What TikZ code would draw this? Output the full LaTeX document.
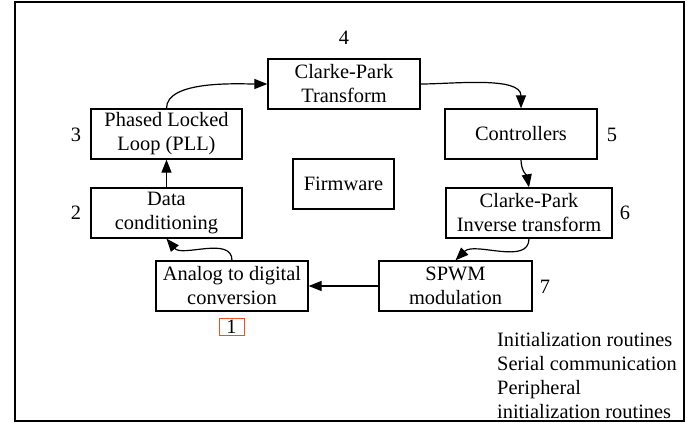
\documentclass[tikz,border=0pt]{standalone}
\usepackage{fontspec}
\setmainfont{Liberation Serif}
\usepackage{tikz}
\usetikzlibrary{arrows.meta,positioning}

\definecolor{markred}{RGB}{240,80,40}

\tikzset{
	block/.style={draw,line width=1.3pt,align=center,minimum height=50pt,inner sep=2pt},
	tag/.style={inner sep=0pt}
}

\begin{document}
\begin{tikzpicture}[x=1pt,y=1pt,font=\fontsize{20.4}{24}\selectfont]
	\useasboundingbox (0,0) rectangle (699,-423);
	\draw[line width=1.3pt] (15,-2) rectangle (684,-421);

	\begin{scope}[every node/.style={block}]
		\node[minimum width=152pt] (ctp) at (344,-84) {Clarke-Park\\Transform};
		\node[minimum width=151pt] (pll) at (166.5,-134) {Phased Locked\\Loop (PLL)};
		\node[minimum width=151pt] (cond) at (166.5,-213) {Data\\conditioning};
		\node[minimum width=101pt] (fw) at (343.5,-184) {Firmware};
		\node[minimum width=152pt] (ctrl) at (521,-134) {Controllers};
		\node[minimum width=166pt] (inv) at (529,-213) {Clarke-Park\\Inverse transform};
		\node[minimum width=152pt] (adc) at (232,-286) {Analog to digital\\conversion};
		\node[minimum width=153pt] (spwm) at (455.5,-286) {SPWM\\modulation};
	\end{scope}

	% step numbers
	\node[tag] (n4) at (344,-38) {4};
	\node[tag] (n3) at (76,-135) {3};
	\node[tag] (n2) at (76,-213) {2};
	\node[tag] (n5) at (612,-135) {5};
	\node[tag] (n6) at (625,-213) {6};
	\node[tag] (n7) at (545,-287) {7};
	\node[draw=markred,line width=0.8pt,minimum width=25pt,minimum height=17pt,inner sep=0pt] (n1) at (231.5,-326.5) {1};

	\node[tag,anchor=north west,align=left] (extra) at (497,-332) {Initialization routines\\Serial communication\\Peripheral\\initialization routines};

	\begin{scope}[>={Triangle[length=13pt,width=10pt]},
		every edge/.style={draw,line width=1.2pt,->}]
		\path (cond.north) edge (pll.south);
		\path (pll.north) edge[out=90,in=180,looseness=0.7] (ctp.west);
		\path (ctp.east) edge[out=0,in=90,looseness=0.8] (ctrl.north);
		\path (ctrl.south) edge[out=-90,in=100] (inv.north);
		\path (inv.south) edge[out=-90,in=45,looseness=0.9] (spwm.north);
		\path (spwm.west) edge (adc.east);
		\path (adc.north) edge[out=90,in=-50,looseness=0.9] (cond.south);
	\end{scope}
\end{tikzpicture}
\end{document}
